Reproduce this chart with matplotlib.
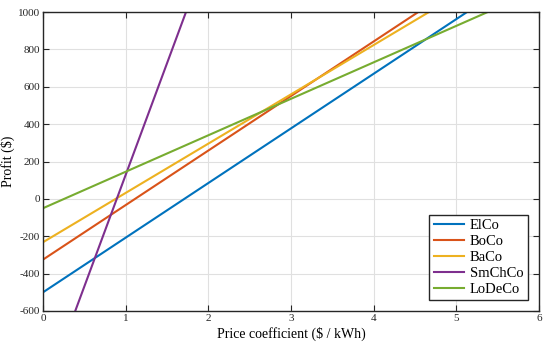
import matplotlib
matplotlib.use("Agg")
import matplotlib.pyplot as plt

plt.rcParams['font.family'] = ['Liberation Serif', 'DejaVu Serif']
plt.rcParams['axes.unicode_minus'] = False

# each line is straight: two points
names = ['ElCo', 'BoCo', 'BaCo', 'SmChCo', 'LoDeCo']
x_start = [0.0, 0.0, 0.0, 0.39, 0.0]
y_start = [-500, -325, -232, -600, -50]
x_end = [5.13, 4.54, 4.67, 1.73, 5.38]
y_end = [1000, 1000, 1000, 1000, 1000]
colors = ['#0072BD', '#D95319', '#EDB120', '#7E2F8E', '#77AC30']

fig = plt.figure(figsize=(5.5, 3.44), dpi=100)
ax = fig.add_axes([43 / 550, 33 / 344, 496 / 550, 299 / 344])

for n, xs, ys, xe, ye, c in zip(names, x_start, y_start, x_end, y_end, colors):
    ax.plot([xs, xe], [ys, ye], color=c, lw=1.5, label=n)

ax.set_xlim(0, 6)
ax.set_ylim(-600, 1000)
ax.set_xticks(range(0, 7))
ax.set_yticks(range(-600, 1001, 200))
ax.grid(True, color='#e0e0e0', lw=0.8)
ax.set_axisbelow(True)
ax.tick_params(direction='in', top=True, right=True, labelsize=8,
               colors='#262626', length=4, pad=2)
for s in ax.spines.values():
    s.set_color('#262626')
    s.set_linewidth(1.0)
ax.set_xlabel('Price coefficient ($ / kWh)', fontsize=10, labelpad=3)
ax.set_ylabel('Profit ($)', fontsize=10, labelpad=2)

leg = ax.legend(loc='lower right', fontsize=10.5, fancybox=False, framealpha=1,
                edgecolor='#262626', handlelength=2.1, borderpad=0.3,
                labelspacing=0.18, handletextpad=0.4, borderaxespad=0.75)
leg.get_frame().set_linewidth(1.0)

fig.savefig('out.png', dpi=100)
